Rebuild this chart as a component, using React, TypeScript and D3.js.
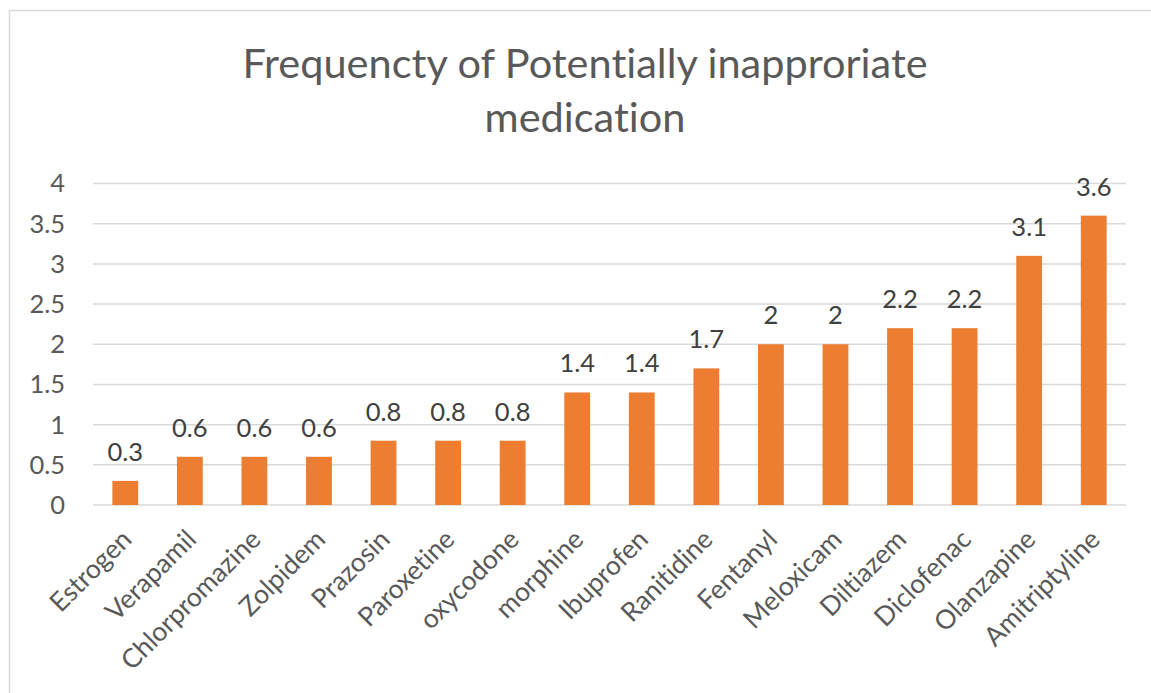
import React, { useRef, useEffect } from 'react';
import * as d3 from 'd3';

const drugs = [
  'Estrogen', 'Verapamil', 'Chlorpromazine', 'Zolpidem', 'Prazosin', 'Paroxetine',
  'oxycodone', 'morphine', 'Ibuprofen', 'Ranitidine', 'Fentanyl', 'Meloxicam',
  'Diltiazem', 'Diclofenac', 'Olanzapine', 'Amitriptyline',
];
const frequency = [0.3, 0.6, 0.6, 0.6, 0.8, 0.8, 0.8, 1.4, 1.4, 1.7, 2, 2, 2.2, 2.2, 3.1, 3.6];
const yTicks = [0, 0.5, 1, 1.5, 2, 2.5, 3, 3.5, 4];
const titleLines = ['Frequencty of Potentially inapproriate', 'medication'];

const FONT = 'Lato, "Open Sans", sans-serif';
const TEXT = '#595959';

export default function App() {
  const ref = useRef<SVGSVGElement>(null);
  const width = 1151;
  const height = 693;

  useEffect(() => {
    if (!ref.current) return;
    const svg = d3.select(ref.current);
    svg.selectAll('*').remove();

    const margin = { top: 183.5, right: 25, bottom: 188, left: 93 };

    // chart area frame (only top/left visible in the crop)
    svg.append('rect')
      .attr('x', 9.5).attr('y', 10.5)
      .attr('width', 1300).attr('height', 900)
      .attr('fill', '#fff')
      .attr('stroke', '#d9d9d9').attr('stroke-width', 1.5);

    svg.append('g')
      .selectAll('text')
      .data(titleLines)
      .join('text')
      .attr('x', 585)
      .attr('y', (d, i) => 78 + i * 54)
      .attr('text-anchor', 'middle')
      .attr('font-family', FONT)
      .attr('font-size', 41.5)
      .attr('fill', TEXT)
      .text((d) => d);

    const x = d3.scaleBand()
      .domain(drugs)
      .range([margin.left, width - margin.right])
      .paddingInner(0.6)
      .paddingOuter(0.3);

    const y = d3.scaleLinear()
      .domain([0, 4])
      .range([height - margin.bottom, margin.top]);

    // gridlines
    svg.append('g')
      .selectAll('line')
      .data(yTicks)
      .join('line')
      .attr('x1', margin.left).attr('x2', width - margin.right)
      .attr('y1', (d) => y(d)).attr('y2', (d) => y(d))
      .attr('stroke', '#d9d9d9').attr('stroke-width', 1.5);

    svg.append('g')
      .selectAll('text')
      .data(yTicks)
      .join('text')
      .attr('x', 65)
      .attr('y', (d) => y(d))
      .attr('dy', '0.35em')
      .attr('text-anchor', 'end')
      .attr('font-family', FONT)
      .attr('font-size', 25.5)
      .attr('fill', TEXT)
      .text((d) => d);

    const data = drugs.map((name, i) => ({ name, value: frequency[i] }));

    svg.append('g')
      .selectAll('rect')
      .data(data)
      .join('rect')
      .attr('x', (d) => x(d.name)!)
      .attr('width', x.bandwidth())
      .attr('y', (d) => y(d.value))
      .attr('height', (d) => y(0) - y(d.value))
      .attr('fill', '#ed7d31');

    // data labels
    svg.append('g')
      .selectAll('text')
      .data(data)
      .join('text')
      .attr('x', (d) => x(d.name)! + x.bandwidth() / 2)
      .attr('y', (d) => y(d.value) - 20)
      .attr('text-anchor', 'middle')
      .attr('font-family', FONT)
      .attr('font-size', 25.5)
      .attr('fill', '#404040')
      .text((d) => d.value);

    // category labels, rotated
    svg.append('g')
      .selectAll('text')
      .data(drugs)
      .join('text')
      .attr('transform', (d) => `translate(${x(d)! + x.bandwidth() / 2 + 8},${y(0) + 36}) rotate(-45)`)
      .attr('text-anchor', 'end')
      .attr('font-family', FONT)
      .attr('font-size', 26.5)
      .attr('fill', TEXT)
      .text((d) => d);

    svg.selectAll('text').style('font-variant-ligatures', 'none');
  }, []);

  return (
    <svg
      ref={ref}
      width={width}
      height={height}
      style={{ position: 'absolute', left: 0, top: 0, display: 'block', background: '#fff' }}
    />
  );
}
